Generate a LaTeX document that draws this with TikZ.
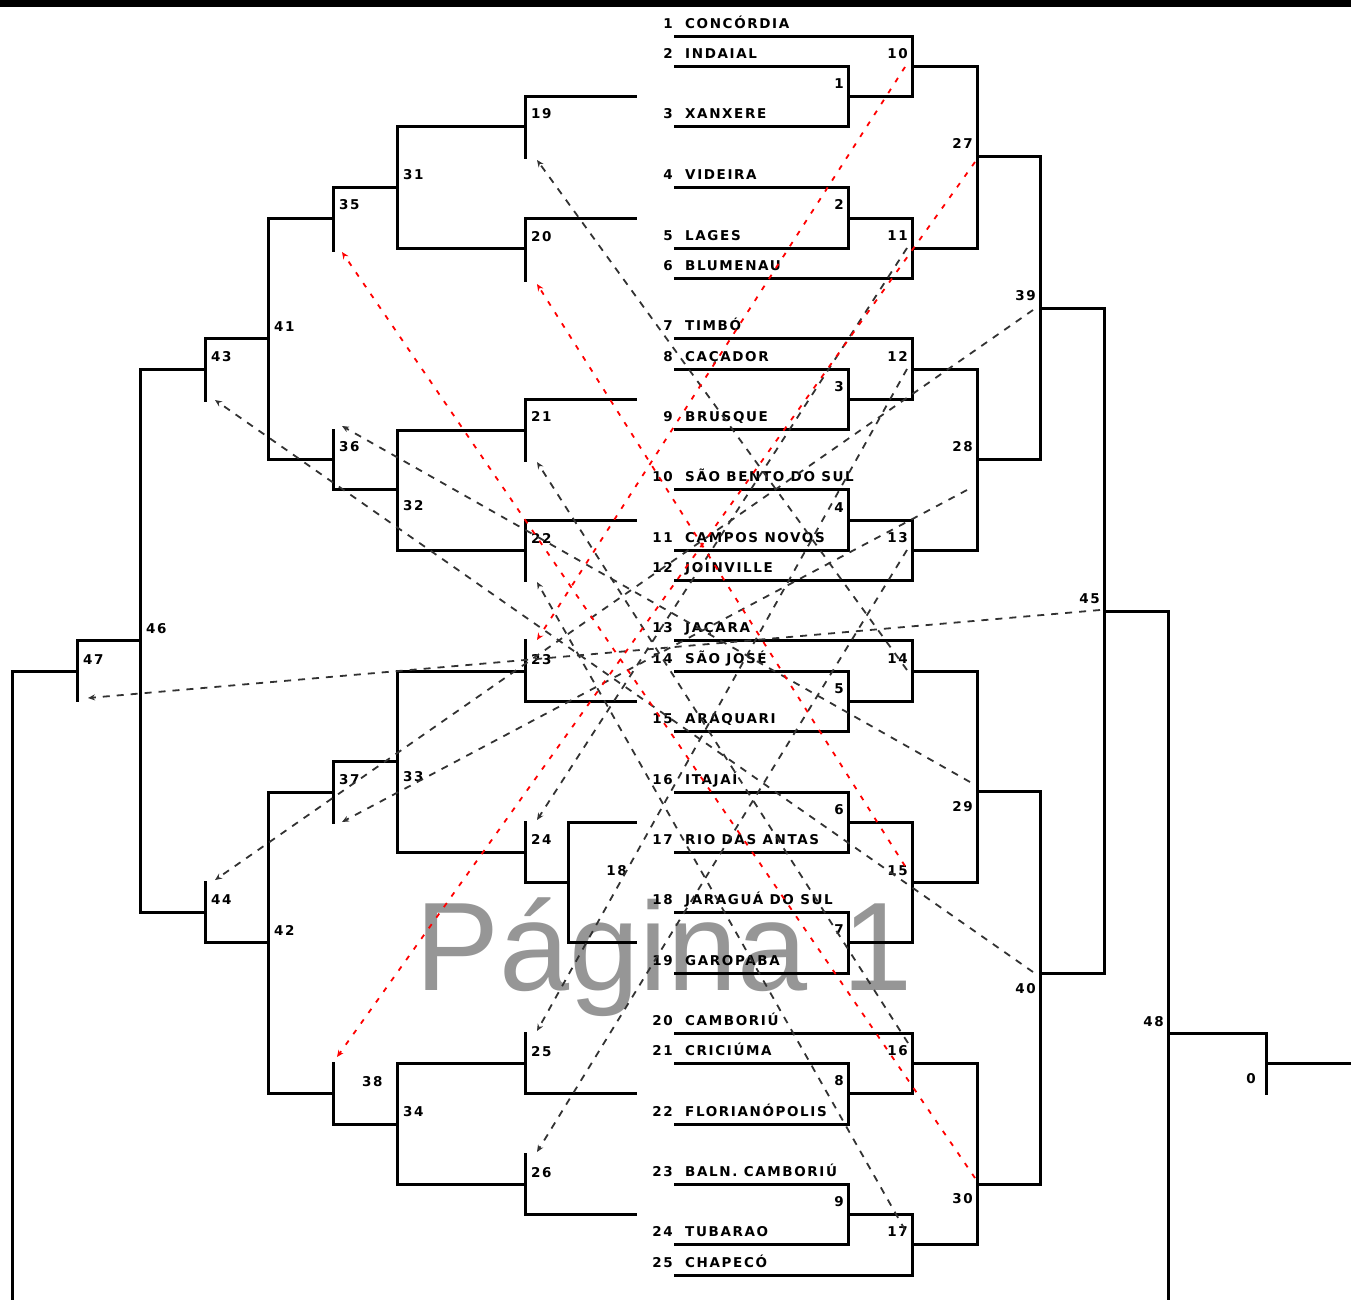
\documentclass[tikz,border=0pt]{standalone}
\usepackage{fontspec}
\setmainfont{DejaVu Sans}
\newfontfamily\pixfont{DejaVu Sans Bold}[LetterSpace=12]
\newfontfamily\wmfont{Liberation Sans}
\usetikzlibrary{arrows.meta}
\definecolor{wmgray}{RGB}{150,150,150}
\definecolor{dashgray}{RGB}{50,50,50}

\begin{document}
\begin{tikzpicture}[x=1pt, y=-1pt,
    bline/.style={line width=3pt, line cap=rect},
    txt/.style={font=\pixfont\fontsize{13.5}{13.5}\selectfont, inner sep=0pt},
    lose/.style={line width=1.8pt, dashgray, dash pattern=on 7pt off 7pt, -{Stealth[length=7pt,width=6pt]}},
    loser/.style={lose, red, dash pattern=on 5pt off 8pt}]
    \useasboundingbox (0,0) rectangle (1351,1300);
    % Watermark
    \node[anchor=base, inner sep=0pt, text=wmgray, font=\wmfont\fontsize{126}{126}\selectfont]
      (pagina) at (664,990) {Página 1};
    % Top rule
    \fill (0,0) rectangle (1351,7);
    % Teams
    \foreach \i/\y/\r/\nm in {1/37/912/CONCÓRDIA, 2/67/848/INDAIAL, 3/127/848/XANXERE,
        4/188/848/VIDEIRA, 5/248/848/LAGES, 6/278/912/BLUMENAU, 7/338/912/TIMBÓ,
        8/369/848/CAÇADOR, 9/429/848/BRUSQUE, 10/489/848/SÃO BENTO DO SUL,
        11/550/848/CAMPOS NOVOS, 12/580/912/JOINVILLE, 13/640/912/JAÇARA,
        14/671/848/SÃO JOSÉ, 15/731/848/ARAQUARI, 16/792/848/ITAJAÍ,
        17/852/848/RIO DAS ANTAS, 18/912/848/JARAGUÁ DO SUL, 19/973/848/GAROPABA,
        20/1033/912/CAMBORIÚ, 21/1063/848/CRICIÚMA, 22/1124/848/FLORIANÓPOLIS,
        23/1184/848/BALN. CAMBORIÚ, 24/1244/848/TUBARAO, 25/1275/912/CHAPECÓ} {
      \draw[bline] (675,\y) -- (\r,\y);
      \node[txt, anchor=base east] (n\i) at (673,{\y-8}) {\i};
      \node[txt, anchor=base west] (t\i) at (685,{\y-8}) {\nm};
    }
    % Winners side (match / x / top / bottom / out / out x / label y)
    \foreach \m/\x/\a/\b/\o/\ox/\ly in {1/848/67/127/97/912/89, 2/848/188/248/218/912/210,
        3/848/369/429/399/912/391, 4/848/489/550/520/912/512, 5/848/671/731/701/912/693,
        6/848/792/852/822/912/814, 7/848/912/973/942/912/934, 8/848/1063/1124/1093/912/1085,
        9/848/1184/1244/1214/912/1206,
        10/912/37/97/67/977/59, 11/912/218/278/248/977/240, 12/912/338/399/369/977/361,
        13/912/520/580/550/977/542, 14/912/640/701/671/977/663, 15/912/822/942/882/977/875,
        16/912/1033/1093/1063/977/1055, 17/912/1214/1275/1244/977/1236,
        27/977/67/248/157/1040/149, 28/977/369/550/459/1040/451,
        29/977/671/882/791/1040/811, 30/977/1063/1244/1184/1040/1203,
        39/1040/157/459/308/1104/300, 40/1040/791/1184/973/1104/993,
        45/1104/308/973/611/1168/603, 48/1168/611/1300/1033/1266/1026} {
      \draw[bline] (\x,\a) -- (\x,\b);
      \draw[bline] (\x,\o) -- (\ox,\o);
      \node[txt, anchor=base east] (m\m) at ({\x-4},\ly) {\m};
    }
    \draw[bline] (1266,1033) -- (1266,1093);
    \draw[bline] (1266,1063) -- (1351,1063);
    \node[txt, anchor=base east] (m0) at (1256,1083) {0};
    % Losers side, first column (closed arm at y = c)
    \foreach \m/\a/\b/\o/\c/\ly in {19/97/158/127/97/119, 20/218/280/248/218/241,
        21/399/460/430/399/421, 22/520/580/550/520/543, 23/640/701/671/701/664,
        25/1033/1093/1063/1093/1056, 26/1154/1214/1184/1214/1177} {
      \draw[bline] (525,\a) -- (525,\b);
      \draw[bline] (525,\c) -- (635,\c);
      \draw[bline] (525,\o) -- (397,\o);
      \node[txt, anchor=base west] (m\m) at (531,\ly) {\m};
    }
    \draw[bline] (635,822) -- (568,822) -- (568,942) -- (635,942);
    \draw[bline] (568,882) -- (525,882);
    \node[txt, anchor=base east] (m18) at (627,875) {18};
    \draw[bline] (525,822) -- (525,882);
    \draw[bline] (525,852) -- (397,852);
    \node[txt, anchor=base west] (m24) at (531,844) {24};
    % Losers side, later columns (match / x / top / bottom / out / out x / label x / label y)
    \foreach \m/\x/\a/\b/\o/\ox/\lx/\ly in {31/397/127/248/188/333/403/180,
        32/397/430/550/489/333/403/510, 33/397/671/852/761/333/403/781,
        34/397/1063/1184/1124/333/403/1116,
        35/333/188/250/218/268/339/210, 36/333/430/489/459/268/339/451,
        37/333/761/822/792/268/339/784, 38/333/1063/1124/1093/268/362/1086,
        41/268/218/459/338/205/274/331, 42/268/792/1093/942/205/274/935,
        43/205/338/400/369/140/211/361, 44/205/882/942/912/140/211/904,
        46/140/369/912/640/77/146/633, 47/77/640/700/671/12/83/664} {
      \draw[bline] (\x,\a) -- (\x,\b);
      \draw[bline] (\x,\o) -- (\ox,\o);
      \node[txt, anchor=base west] (m\m) at (\lx,\ly) {\m};
    }
    \draw[bline] (12,671) -- (12,1300);
    % Loser routes
    \coordinate (w10) at (905,67);   \coordinate (l23) at (537,640);
    \coordinate (w27) at (975,162);  \coordinate (l38) at (337,1057);
    \coordinate (w30) at (975,1178); \coordinate (l35) at (342,252);
    \coordinate (w15) at (905,866);  \coordinate (l20) at (537,284);
    \coordinate (w40) at (1033,972); \coordinate (l43) at (215,400);
    \coordinate (w29) at (970,782);  \coordinate (l36) at (342,426);
    \coordinate (w14) at (907,670);  \coordinate (l19) at (537,160);
    \coordinate (w16) at (908,1043); \coordinate (l21) at (537,462);
    \coordinate (w17) at (905,1230); \coordinate (l22) at (537,582);
    \coordinate (w39) at (1033,310); \coordinate (l44) at (215,880);
    \coordinate (w28) at (967,490);  \coordinate (l37) at (342,822);
    \coordinate (w45) at (1100,610); \coordinate (l47) at (88,698);
    \coordinate (w11) at (907,248);  \coordinate (l24) at (537,820);
    \coordinate (w12) at (907,369);  \coordinate (l25) at (537,1031);
    \coordinate (w13) at (907,550);  \coordinate (l26) at (537,1152);
    \foreach \a/\b in {w40/l43, w29/l36, w14/l19, w16/l21, w17/l22, w39/l44,
        w28/l37, w45/l47, w11/l24, w12/l25, w13/l26}
      \draw[lose] (\a) -- (\b);
    \foreach \a/\b in {w10/l23, w27/l38, w30/l35, w15/l20}
      \draw[loser] (\a) -- (\b);
\end{tikzpicture}
\end{document}
